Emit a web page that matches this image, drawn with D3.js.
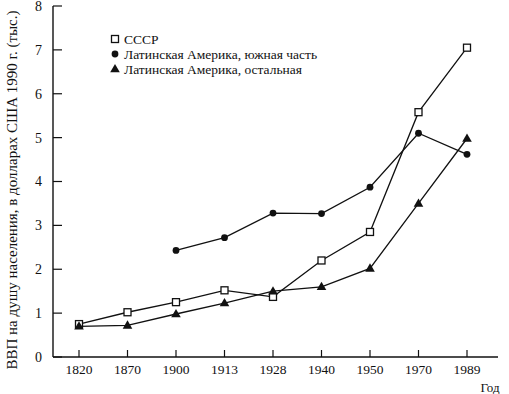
<!DOCTYPE html>
<html>
<head>
<meta charset="utf-8">
<script src="https://cdn.jsdelivr.net/npm/d3@7"></script>
<style>
  body { margin: 0; background: #fff; }
  text { font-family: "Liberation Serif", "DejaVu Serif", serif; fill: #111; }
</style>
</head>
<body>
<div id="chart"></div>
<script>
var years = ["1820", "1870", "1900", "1913", "1928", "1940", "1950", "1970", "1989"];
var ussr = [0.75, 1.02, 1.25, 1.52, 1.37, 2.2, 2.85, 5.58, 7.05];
var latSouth = [null, null, 2.43, 2.72, 3.28, 3.27, 3.87, 5.1, 4.62];
var latOther = [0.7, 0.72, 0.98, 1.23, 1.5, 1.6, 2.02, 3.5, 4.98];
var yTicks = [0, 1, 2, 3, 4, 5, 6, 7, 8];

var width = 509, height = 394;
var axLeft = 53, axRight = 498, axTop = 6, axBottom = 357;

var svg = d3.select("#chart").append("svg")
  .attr("width", width)
  .attr("height", height);

var x = d3.scalePoint().domain(years).range([79, 467]);
var y = d3.scaleLinear().domain([0, 8]).range([axBottom, axTop]);

// axes
svg.append("line").attr("x1", axLeft).attr("x2", axLeft).attr("y1", axTop).attr("y2", axBottom)
  .attr("stroke", "#111").attr("stroke-width", 1.4);
svg.append("line").attr("x1", axLeft).attr("x2", axRight).attr("y1", axBottom).attr("y2", axBottom)
  .attr("stroke", "#111").attr("stroke-width", 1.4);

svg.selectAll(".ytick").data(yTicks).enter().append("line")
  .attr("x1", axLeft).attr("x2", axLeft + 9)
  .attr("y1", function (d) { return y(d); })
  .attr("y2", function (d) { return y(d); })
  .attr("stroke", "#111").attr("stroke-width", 1.2);
svg.selectAll(".ylab").data(yTicks).enter().append("text")
  .attr("x", 42)
  .attr("y", function (d) { return y(d); })
  .attr("dy", ".35em")
  .attr("text-anchor", "end")
  .style("font-size", "14px")
  .text(function (d) { return d; });

svg.selectAll(".xtick").data(years).enter().append("line")
  .attr("x1", function (d) { return x(d); })
  .attr("x2", function (d) { return x(d); })
  .attr("y1", axBottom - 7).attr("y2", axBottom)
  .attr("stroke", "#111").attr("stroke-width", 1.2);
svg.selectAll(".xlab").data(years).enter().append("text")
  .attr("x", function (d) { return x(d); })
  .attr("y", 374)
  .attr("text-anchor", "middle")
  .style("font-size", "13.5px")
  .text(function (d) { return d; });

svg.append("text").attr("x", 490).attr("y", 392).attr("text-anchor", "middle")
  .style("font-size", "13px").text("Год");

svg.append("text")
  .attr("transform", "translate(17," + 190 + ") rotate(-90)")
  .attr("text-anchor", "middle")
  .style("font-size", "15px")
  .text("ВВП на душу населения, в долларах США 1990 г. (тыс.)");

// series
var series = [
  { name: "СССР", values: ussr, marker: "square" },
  { name: "Латинская Америка, южная часть", values: latSouth, marker: "circle" },
  { name: "Латинская Америка, остальная", values: latOther, marker: "triangle" }
];

var line = d3.line()
  .defined(function (d) { return d.v != null; })
  .x(function (d) { return x(d.year); })
  .y(function (d) { return y(d.v); });

function drawMarker(g, type, cx, cy) {
  if (type == "square") {
    g.append("rect").attr("x", cx - 3.5).attr("y", cy - 3.5).attr("width", 7).attr("height", 7)
      .attr("fill", "#fff").attr("stroke", "#111").attr("stroke-width", 1.3);
  } else if (type == "circle") {
    g.append("circle").attr("cx", cx).attr("cy", cy).attr("r", 3.4).attr("fill", "#111");
  } else {
    g.append("path").attr("d", d3.symbol().type(d3.symbolTriangle).size(40)())
      .attr("transform", "translate(" + cx + "," + (cy + 0.5) + ")").attr("fill", "#111");
  }
}

series.forEach(function (s) {
  var pts = years.map(function (yr, i) { return { year: yr, v: s.values[i] }; });
  svg.append("path").datum(pts).attr("d", line)
    .attr("fill", "none").attr("stroke", "#111").attr("stroke-width", 1.3);
  var g = svg.append("g");
  pts.forEach(function (p) {
    if (p.v != null) drawMarker(g, s.marker, x(p.year), y(p.v));
  });
});

// legend
var lg = svg.append("g");
series.forEach(function (s, i) {
  var ly = 39 + i * 15;
  drawMarker(lg, s.marker, 115, ly);
  lg.append("text").attr("x", 124).attr("y", ly).attr("dy", ".35em")
    .style("font-size", "13.5px").text(s.name);
});
</script>
</body>
</html>
